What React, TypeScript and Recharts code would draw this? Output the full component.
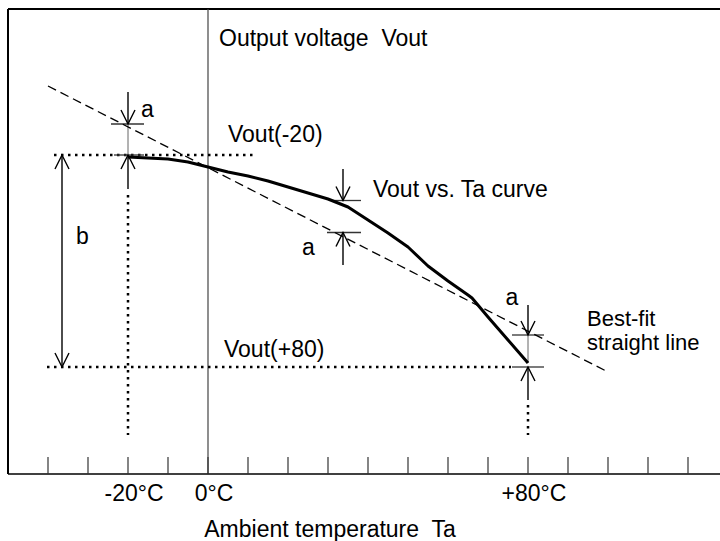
import React from 'react';
import { ComposedChart, Line, XAxis, YAxis, ReferenceLine, ReferenceDot } from 'recharts';

// Ambient temperature Ta in °C, Vout in arbitrary units (0 = bottom axis)
const curveTemps = [-20, -15, -10, -5, 0, 5, 10, 15, 20, 25, 30, 35, 40, 45, 50, 55, 60, 65, 66, 70, 75, 80];
const curveVout = [317, 316, 315, 312, 307, 302, 298, 293, 287, 281, 275, 267, 254, 241, 227, 208, 193, 179, 176, 157, 134, 111];

const fitTemps = [-40, 100];
const fitVout = [388, 102];

const tickTemps = [-40, -30, -20, -10, 0, 10, 20, 30, 40, 50, 60, 70, 80, 90, 100, 110, 120];
const tickLabels: Record<number, string> = { [-20]: '-20°C', 0: '0°C', 80: '+80°C' };

const voutLow = 319; // Vout(-20)
const voutHigh = 107; // Vout(+80)

// text annotations
const notes = [
  { text: 'Output voltage  Vout', t: 2.75, v: 428 },
  { text: 'Vout(-20)', t: 5, v: 332 },
  { text: 'Vout vs. Ta curve', t: 41.25, v: 277 },
  { text: 'Vout(+80)', t: 4, v: 117 },
  { text: 'a', t: -16.75, v: 357 },
  { text: 'a', t: 23.5, v: 219 },
  { text: 'a', t: 74.4, v: 169 },
  { text: 'b', t: -33, v: 230 },
];
const fitLabel = ['Best-fit', 'straight line'];

const font = '"Liberation Sans", Arial, sans-serif';
const curveData = curveTemps.map((t, i) => ({ t, v: curveVout[i] }));
const fitData = fitTemps.map((t, i) => ({ t, v: fitVout[i] }));

const headPath = (xa: number, ya: number, xb: number, yb: number) => {
  const dx = xb - xa, dy = yb - ya;
  const len = Math.hypot(dx, dy) || 1;
  const ux = dx / len, uy = dy / len;
  const L = 14, W = 7;
  const bx = xb - ux * L, by = yb - uy * L;
  return `M${bx - uy * W},${by + ux * W} L${xb},${yb} L${bx + uy * W},${by - ux * W}`;
};

const arrow = (both: boolean) => (p: any) => {
  const { x1, y1, x2, y2 } = p;
  return (
    <g stroke="#000" strokeWidth={1.4} fill="none">
      <line x1={x1} y1={y1} x2={x2} y2={y2} />
      <path d={headPath(x1, y1, x2, y2)} />
      {both && <path d={headPath(x2, y2, x1, y1)} />}
    </g>
  );
};

const AxisTick = (props: any) => {
  const { x, y, payload } = props;
  const label = tickLabels[payload.value];
  return (
    <g>
      <line x1={x} x2={x} y1={y - 17} y2={y} stroke="#333" strokeWidth={1.2} />
      {label && (
        <text x={x + 6} y={y + 27} textAnchor="middle" fontFamily={font} fontSize={23} fill="#000">
          {label}
        </text>
      )}
    </g>
  );
};

const seg = (t1: number, v1: number, t2: number, v2: number) => [{ x: t1, y: v1 }, { x: t2, y: v2 }];
const dotted = { stroke: '#000', strokeWidth: 2.5, strokeDasharray: '2.5 4.5' };
const tickMark = { stroke: '#333', strokeWidth: 1.3 };

export default function App() {
  return (
    <div style={{ width: 720, height: 541 }}>
      <style>{`body { margin: 0; }`}</style>
      <ComposedChart width={720} height={541} margin={{ top: 9, right: 0, bottom: 0, left: 8 }}>
        <XAxis
          type="number"
          dataKey="t"
          domain={[-50, 128]}
          ticks={tickTemps}
          interval={0}
          height={67}
          tickLine={false}
          tickSize={0}
          tickMargin={0}
          axisLine={{ stroke: '#000', strokeWidth: 1.5 }}
          tick={<AxisTick />}
          allowDataOverflow
        />
        <YAxis type="number" dataKey="v" domain={[0, 465]} hide allowDataOverflow />

        {/* frame */}
        <ReferenceLine y={465} stroke="#000" strokeWidth={2} />
        <ReferenceLine x={-50} stroke="#000" strokeWidth={2} />
        <ReferenceLine x={0} stroke="#444" strokeWidth={1.2} />

        {/* dotted guides */}
        <ReferenceLine segment={seg(-38.5, voutLow, 12, voutLow)} {...dotted} />
        <ReferenceLine segment={seg(-40.25, voutHigh, 75.75, voutHigh)} {...dotted} />
        <ReferenceLine segment={seg(-20, 279, -20, 39)} {...dotted} />
        <ReferenceLine segment={seg(80, 69, 80, 39)} {...dotted} />

        {/* short ticks and connectors */}
        <ReferenceLine segment={seg(-24.25, 350, -16, 350)} {...tickMark} />
        <ReferenceLine segment={seg(-23.5, voutLow, -16, voutLow)} {...tickMark} />
        <ReferenceLine segment={seg(-20, 350, -20, voutLow)} stroke="#666" strokeWidth={1} />
        <ReferenceLine segment={seg(31, 273.5, 38.25, 273.5)} {...tickMark} />
        <ReferenceLine segment={seg(29.75, 241.5, 38.25, 241.5)} {...tickMark} />
        <ReferenceLine segment={seg(76, 139, 84, 139)} {...tickMark} />
        <ReferenceLine segment={seg(76, voutHigh, 84, voutHigh)} {...tickMark} />
        <ReferenceLine segment={seg(80, 139, 80, 111)} stroke="#666" strokeWidth={1} />

        {/* arrows */}
        <ReferenceLine segment={seg(-20, 382, -20, 350)} shape={arrow(false)} />
        <ReferenceLine segment={seg(-20, 285, -20, voutLow)} shape={arrow(false)} />
        <ReferenceLine segment={seg(-36.5, voutHigh, -36.5, voutLow)} shape={arrow(true)} />
        <ReferenceLine segment={seg(33.75, 305, 33.75, 273.5)} shape={arrow(false)} />
        <ReferenceLine segment={seg(33.75, 209, 33.75, 241.5)} shape={arrow(false)} />
        <ReferenceLine segment={seg(80, 169, 80, 139)} shape={arrow(false)} />
        <ReferenceLine segment={seg(80, 74, 80, voutHigh)} shape={arrow(false)} />

        <Line
          data={fitData}
          dataKey="v"
          type="linear"
          stroke="#000"
          strokeWidth={1.3}
          strokeDasharray="9 5"
          dot={false}
          activeDot={false}
          isAnimationActive={false}
        />
        <Line
          data={curveData}
          dataKey="v"
          type="linear"
          stroke="#000"
          strokeWidth={3}
          strokeLinejoin="round"
          dot={false}
          activeDot={false}
          isAnimationActive={false}
        />

        {notes.map((n, i) => (
          <ReferenceDot
            key={i}
            x={n.t}
            y={n.v}
            r={0}
            shape={(p: any) => (
              <text x={p.cx} y={p.cy} fontFamily={font} fontSize={23} fill="#000" style={{ whiteSpace: 'pre' }}>
                {n.text}
              </text>
            )}
          />
        ))}
        <ReferenceDot
          x={94.75}
          y={148}
          r={0}
          shape={(p: any) => (
            <text x={p.cx} y={p.cy} fontFamily={font} fontSize={22} fill="#000">
              <tspan x={p.cx} dy={0}>{fitLabel[0]}</tspan>
              <tspan x={p.cx} dy={24}>{fitLabel[1]}</tspan>
            </text>
          )}
        />
        <ReferenceDot
          x={30.5}
          y={-63}
          r={0}
          ifOverflow="visible"
          shape={(p: any) => (
            <text x={p.cx} y={p.cy} textAnchor="middle" fontFamily={font} fontSize={23} fill="#000" style={{ whiteSpace: 'pre' }}>
              Ambient temperature  Ta
            </text>
          )}
        />
      </ComposedChart>
    </div>
  );
}
